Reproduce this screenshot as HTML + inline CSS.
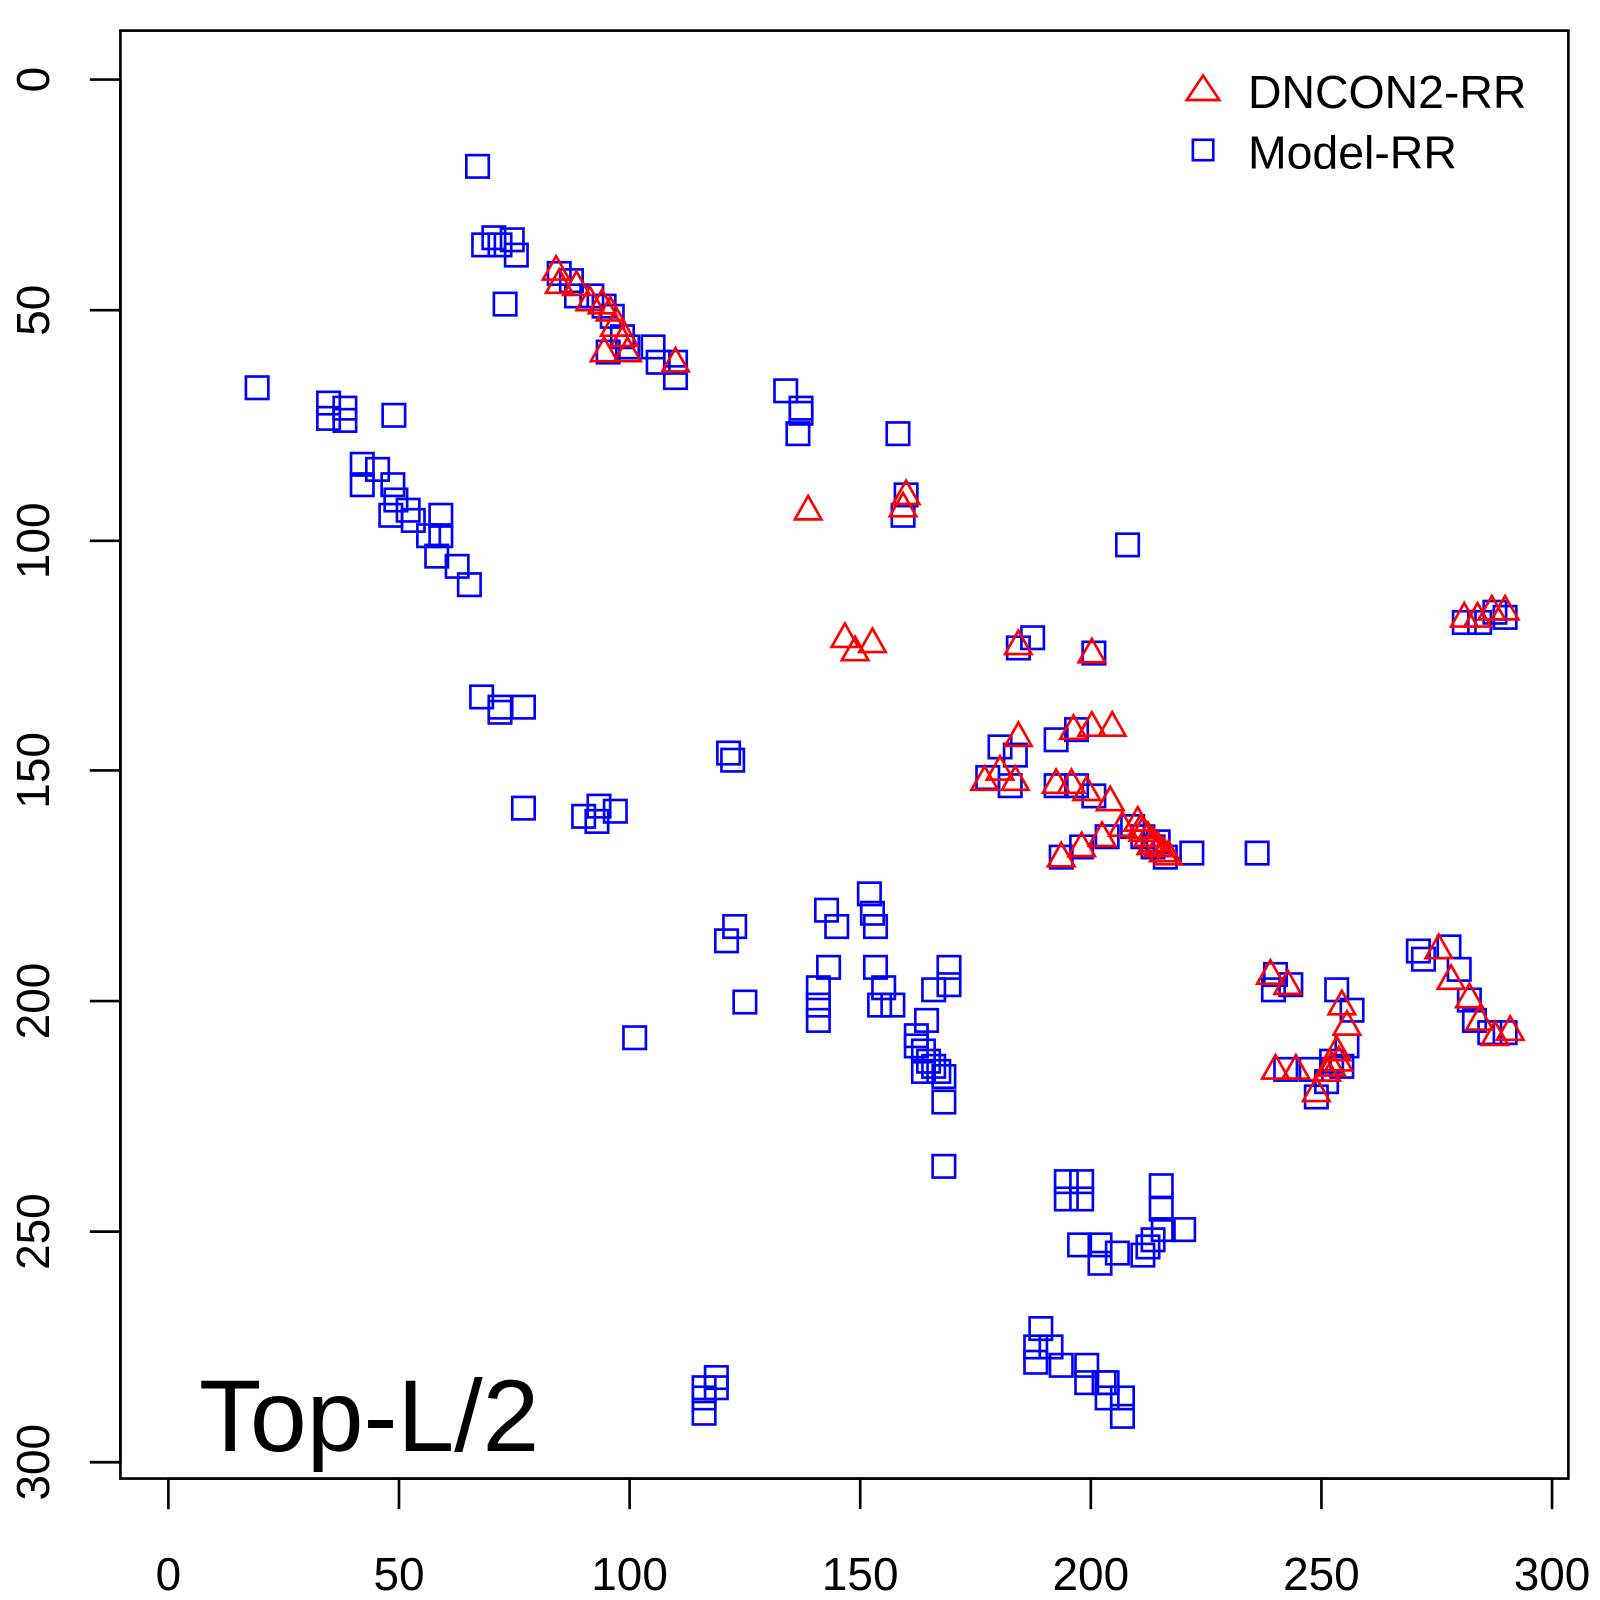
<!DOCTYPE html>
<html><head><meta charset="utf-8"><style>
html,body{margin:0;padding:0;background:#fff;}
svg{display:block;}
text{font-family:"Liberation Sans",sans-serif;}
</style></head><body>
<svg id="s" width="1600" height="1600" viewBox="0 0 1568 1568" xmlns="http://www.w3.org/2000/svg">
<rect x="0" y="0" width="1568" height="1568" fill="#fff"/>
<g id="sq" fill="none" stroke="#0000ff" stroke-width="2.6"></g>
<g id="tr" fill="none" stroke="#ff0000" stroke-width="2.6"></g>
<rect x="118" y="30" width="1419" height="1419" fill="none" stroke="#000" stroke-width="2.6"/>
<g stroke="#000" stroke-width="2.6">
<line x1="165" y1="1449" x2="1521" y2="1449"/>
<line x1="165" y1="1449" x2="165" y2="1479"/><line x1="391" y1="1449" x2="391" y2="1479"/>
<line x1="617" y1="1449" x2="617" y2="1479"/><line x1="843" y1="1449" x2="843" y2="1479"/>
<line x1="1069" y1="1449" x2="1069" y2="1479"/><line x1="1295" y1="1449" x2="1295" y2="1479"/>
<line x1="1521" y1="1449" x2="1521" y2="1479"/>
<line x1="118" y1="78" x2="118" y2="1433"/>
<line x1="88" y1="78" x2="118" y2="78"/><line x1="88" y1="304" x2="118" y2="304"/>
<line x1="88" y1="530" x2="118" y2="530"/><line x1="88" y1="755" x2="118" y2="755"/>
<line x1="88" y1="981" x2="118" y2="981"/><line x1="88" y1="1207" x2="118" y2="1207"/>
<line x1="88" y1="1433" x2="118" y2="1433"/>
</g>
<g font-size="45" text-anchor="middle" fill="#000">
<text x="165" y="1558">0</text><text x="391" y="1558">50</text><text x="617" y="1558">100</text>
<text x="843" y="1558">150</text><text x="1069" y="1558">200</text><text x="1295" y="1558">250</text>
<text x="1521" y="1558">300</text>
<text transform="translate(48,78) rotate(-90)">0</text>
<text transform="translate(48,304) rotate(-90)">50</text>
<text transform="translate(48,530) rotate(-90)">100</text>
<text transform="translate(48,755) rotate(-90)">150</text>
<text transform="translate(48,981) rotate(-90)">200</text>
<text transform="translate(48,1207) rotate(-90)">250</text>
<text transform="translate(48,1433) rotate(-90)">300</text>
</g>
<polygon points="1163,98 1179,74 1195,98" fill="none" stroke="#f00" stroke-width="2.6"/>
<rect x="1169" y="137" width="20" height="20" fill="none" stroke="#00f" stroke-width="2.6"/>
<text x="1223" y="106" font-size="45.5">DNCON2-RR</text>
<text x="1223" y="165" font-size="45.5">Model-RR</text>
<text x="195" y="1422" font-size="100">Top-L/2</text>
</svg>
<script>
var S=[[468,163],[484,233],[490,240],[502,235],[506,250],[474,240],[495,298],
[548,268],[560,275],[565,290],[580,290],[592,300],[600,310],[610,330],[615,340],[596,345],[640,340],[645,355],[662,355],[662,370],
[252,380],[322,395],[338,400],[322,410],[338,412],[386,407],[355,455],[370,460],[355,475],[385,475],[388,490],[400,500],[383,505],[405,510],[420,525],[432,505],[432,525],[428,545],[448,555],[460,573],
[472,683],[490,693],[513,693],[490,698],[513,792],[572,800],[585,805],[603,795],[587,790],
[770,383],[785,405],[782,425],[785,400],[880,425],[888,485],[885,505],[714,738],[718,745],[1105,534],
[720,908],[712,922],[730,982],[622,1017],
[810,892],[820,908],[852,876],[855,895],[858,908],[802,968],[812,948],[802,985],[802,1000],[858,948],[866,968],[875,985],[862,985],[898,1015],[905,1030],[915,1045],[925,1055],[908,1000],[915,970],[930,948],[930,965],[925,1080],[925,1143],[898,1025],[910,1040],[920,1050],[905,1050],
[1012,625],[998,635],[980,732],[995,740],[1035,725],[1055,715],[968,762],[990,770],[1035,770],[1055,770],[1072,780],[1040,840],[1060,830],[1085,820],[1110,810],[1130,830],[1142,840],[1168,836],[1232,836],[1072,640],[1120,820],[1135,825],
[1045,1158],[1060,1158],[1045,1175],[1060,1175],[1058,1220],[1078,1220],[1078,1238],[1095,1228],[1120,1230],[1130,1215],[1140,1205],[1160,1205],[1138,1162],[1138,1185],[1125,1222],
[1020,1302],[1015,1320],[1030,1320],[1015,1335],[1040,1338],[1065,1338],[1065,1355],[1085,1355],[1085,1370],[1100,1370],[1100,1388],[1082,1355],
[690,1385],[690,1370],[702,1360],[702,1350],[690,1360],
[1250,955],[1265,965],[1248,970],[1260,1048],[1285,1048],[1310,970],[1325,990],[1305,1040],[1300,1060],[1290,1075],[1320,1025],[1315,1045],
[1390,932],[1395,940],[1420,928],[1430,950],[1440,980],[1445,1000],[1460,1012],[1475,1012],[1435,610],[1450,610],[1465,600],[1475,605]];
var T=[[545,265],[548,278],[565,280],[578,295],[590,298],[598,305],[602,320],[612,330],[592,345],[615,345],[662,355],[792,500],[888,485],[885,497],[828,625],[838,638],[855,630],[998,632],[1070,640],[998,722],[965,765],[980,755],[995,765],[1035,768],[1050,768],[1065,775],[1088,785],[1052,715],[1070,712],[1090,712],[1040,840],[1060,830],[1080,820],[1100,810],[1115,805],[1120,815],[1125,820],[1130,825],[1135,830],[1140,835],[1118,812],[1128,828],[1145,838],[1245,955],[1262,965],[1250,1048],[1270,1048],[1290,1070],[1300,1050],[1305,1045],[1310,1030],[1312,1040],[1320,1005],[1315,985],[1410,930],[1422,960],[1440,978],[1450,1000],[1465,1015],[1480,1010],[1435,605],[1448,605],[1462,598],[1475,598]];
var ns="http://www.w3.org/2000/svg",g1=document.getElementById("sq"),g2=document.getElementById("tr");
S.forEach(function(p){var r=document.createElementNS(ns,"rect");r.setAttribute("x",p[0]-11);r.setAttribute("y",p[1]-11);r.setAttribute("width",22);r.setAttribute("height",22);g1.appendChild(r);});
T.forEach(function(p){var r=document.createElementNS(ns,"polygon");r.setAttribute("points",(p[0]-13)+","+(p[1]+9)+" "+p[0]+","+(p[1]-14)+" "+(p[0]+13)+","+(p[1]+9));g2.appendChild(r);});
</script>
</body></html>
